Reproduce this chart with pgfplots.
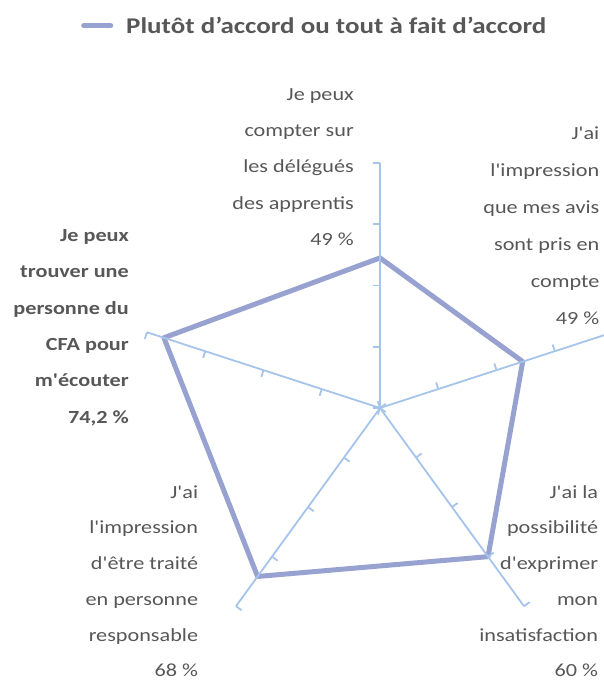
\documentclass[border=0pt]{standalone}
\usepackage{fontspec}
\setmainfont{Carlito}[FakeStretch=1.2, Ligatures=TeXOff]
\usepackage{pgfplots}
\pgfplotsset{compat=1.18}
\usepgfplotslibrary{polar}
\usetikzlibrary{calc}
\definecolor{spoke}{HTML}{A6C4EB}
\definecolor{dataline}{HTML}{98A2D1}
\definecolor{txt}{HTML}{575757}
\newcommand\labfont{\fontsize{18.5}{22}\selectfont}
\newcommand\lab[5]{\foreach \t [count=\i from 0] in {#5} {\node[anchor=base east, inner sep=0pt, text=txt, font=#4] at ($(O)+(#1pt,#2pt-\i*#3pt)$) {\t};}}
\begin{document}
\begin{tikzpicture}
\begin{polaraxis}[
  hide axis, scale only axis, width=490pt, height=490pt,
  ymin=0, ymax=80, clip=false,
  legend style={at={(-0.1102,1.280)}, anchor=west, draw=none, fill=none, inner sep=0pt,
    font=\fontsize{22.5}{27}\selectfont\bfseries, text=txt,
    /tikz/every odd column/.append style={column sep=11pt}},
  legend cell align=left,
  legend image code/.code={\draw[#1, line cap=round] (2.5pt,0pt) -- (29.5pt,0pt);},
]
\addplot[dataline, line width=5pt, line join=round] coordinates {(90,49)(18,49)(-54,60)(-126,68)(162,74.2)(90,49)(18,49)};
\addlegendentry{Plutôt d’accord ou tout à fait d’accord}
\addplot[spoke, line width=1.8pt, forget plot] coordinates {(90,0)(90,80)};
\addplot[spoke, line width=1.8pt, forget plot] coordinates {(18,0)(18,80)};
\addplot[spoke, line width=1.8pt, forget plot] coordinates {(-54,0)(-54,80)};
\addplot[spoke, line width=1.8pt, forget plot] coordinates {(-126,0)(-126,80)};
\addplot[spoke, line width=1.8pt, forget plot] coordinates {(162,0)(162,80)};
\coordinate (O) at (axis cs:0,0);
\end{polaraxis}
\foreach \a in {90,18,-54,-126,162} {
  \foreach \r in {0,1,2,3,4} {
    \draw[spoke, line width=1.8pt] ($(O)+(\a:\r*61.25pt)$) -- ++(\a+90:7pt);
  }
}
\lab{-26}{307.7}{36.3}{\labfont}{Je peux,compter sur,les délégués,des apprentis,49 \%}
\lab{219.5}{268.3}{37}{\labfont}{J'ai,l'impression,que mes avis,sont pris en,compte,49 \%}
\lab{218.3}{-90.3}{35.7}{\labfont}{J'ai la,possibilité,d'exprimer,mon,insatisfaction,60 \%}
\lab{-181.7}{-90.3}{35.7}{\labfont}{J'ai,l'impression,d'être traité,en personne,responsable,68 \%}
\lab{-251}{166.3}{36.3}{\labfont\bfseries}{Je peux,trouver une,personne du,CFA pour,m'écouter,{74,2 \%}}
\pgfresetboundingbox
\path[use as bounding box] ($(O)+(-380pt,-272pt)$) rectangle ($(O)+(224pt,408pt)$);
\end{tikzpicture}
\end{document}
